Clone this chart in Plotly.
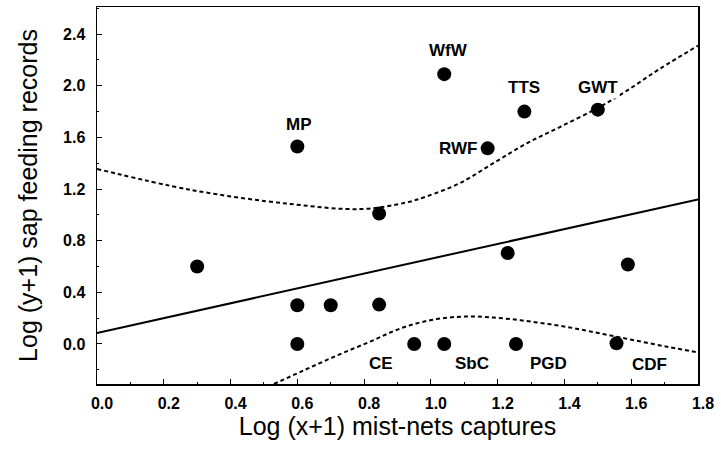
import plotly.graph_objects as go

# ---- data ----
x_vals = [0.60, 1.04, 1.28, 1.50, 1.17, 0.845, 0.30, 0.60, 0.70, 0.60, 0.845, 1.23, 1.59, 0.95, 1.04, 1.255, 1.556]
y_vals = [1.53, 2.09, 1.80, 1.815, 1.515, 1.01, 0.60, 0.30, 0.30, 0.0, 0.305, 0.705, 0.615, 0.0, 0.0, 0.0, 0.005]
labels = ["MP", "WfW", "TTS", "GWT", "RWF", "", "", "", "", "", "", "", "", "CE", "SbC", "PGD", "CDF"]

fit_x = [0.0, 1.8]
fit_y = [0.085, 1.12]

upper_x = [0.0, 0.28, 0.58, 0.79, 0.927, 0.987, 1.087, 1.187, 1.287, 1.386, 1.501, 1.586, 1.686, 1.80]
upper_y = [1.356, 1.194, 1.084, 1.045, 1.096, 1.143, 1.246, 1.40, 1.554, 1.68, 1.83, 1.96, 2.132, 2.31]

lower_x = [0.53, 0.618, 0.718, 0.818, 0.917, 1.017, 1.117, 1.217, 1.317, 1.416, 1.516, 1.616, 1.715, 1.80]
lower_y = [-0.31, -0.206, -0.09, 0.018, 0.128, 0.193, 0.213, 0.198, 0.167, 0.128, 0.077, 0.025, -0.025, -0.065]

x_ticks = [0.0, 0.2, 0.4, 0.6, 0.8, 1.0, 1.2, 1.4, 1.6, 1.8]
y_ticks = [0.0, 0.4, 0.8, 1.2, 1.6, 2.0, 2.4]

FONT = "Liberation Sans, Arial, sans-serif"

# label placement (pixel offsets from the point)
label_pos = {
    "MP": dict(xshift=2, yshift=22, xanchor="center"),
    "WfW": dict(xshift=4, yshift=24, xanchor="center"),
    "TTS": dict(xshift=0, yshift=24, xanchor="center"),
    "GWT": dict(xshift=0, yshift=22, xanchor="center"),
    "RWF": dict(xshift=-9, yshift=0, xanchor="right"),
    "CE": dict(xshift=-33, yshift=-20, xanchor="center"),
    "SbC": dict(xshift=28, yshift=-20, xanchor="center"),
    "PGD": dict(xshift=32, yshift=-20, xanchor="center"),
    "CDF": dict(xshift=33, yshift=-21, xanchor="center"),
}

fig = go.Figure()

fig.add_trace(go.Scatter(x=upper_x, y=upper_y, mode="lines",
                         line=dict(color="black", width=2, dash="4px,3px", shape="spline"),
                         showlegend=False, hoverinfo="skip"))
fig.add_trace(go.Scatter(x=lower_x, y=lower_y, mode="lines",
                         line=dict(color="black", width=2, dash="4px,3px", shape="spline"),
                         showlegend=False, hoverinfo="skip"))
fig.add_trace(go.Scatter(x=fit_x, y=fit_y, mode="lines",
                         line=dict(color="black", width=2),
                         showlegend=False, hoverinfo="skip"))
fig.add_trace(go.Scatter(x=x_vals, y=y_vals, mode="markers",
                         marker=dict(color="black", size=14),
                         showlegend=False))

for xv, yv, lab in zip(x_vals, y_vals, labels):
    if not lab:
        continue
    p = label_pos[lab]
    fig.add_annotation(x=xv, y=yv, text=lab, showarrow=False,
                       xanchor=p["xanchor"], yanchor="middle",
                       xshift=p["xshift"], yshift=p["yshift"],
                       bgcolor="white", borderpad=1,
                       font=dict(family=FONT, size=17, color="black", weight="bold"))

axis_common = dict(
    showline=True, linecolor="black", linewidth=1.5, mirror=True,
    ticks="inside", ticklen=5, tickwidth=1, tickcolor="black",
    showgrid=False, zeroline=False,
    tickfont=dict(family=FONT, size=16, color="black", weight="bold"),
)

fig.update_xaxes(range=[0, 1.8], tickvals=x_ticks,
                 ticktext=[f"{v:.1f}" for v in x_ticks],
                 minor=dict(ticks="inside", ticklen=2, dtick=0.1, tickcolor="black"),
                 title=dict(text="Log (x+1) mist-nets captures",
                            font=dict(family=FONT, size=25, color="black"), standoff=4),
                 ticklabelstandoff=4, ticklabelshift=5, ticklabeloverflow="allow",
                 **axis_common)
fig.update_yaxes(range=[-0.31, 2.61], tickvals=y_ticks,
                 ticktext=[f"{v:.1f}" for v in y_ticks],
                 minor=dict(ticks="inside", ticklen=2, dtick=0.2, tickcolor="black"),
                 title=dict(text="Log (y+1) sap feeding records",
                            font=dict(family=FONT, size=25, color="black"), standoff=18),
                 ticklabelstandoff=7,
                 **axis_common)

fig.update_layout(
    width=721, height=453,
    margin=dict(l=97, r=23, t=7, b=69, autoexpand=False),
    plot_bgcolor="white", paper_bgcolor="white",
    hovermode=False,
)

fig.write_html("out.html",
               config={"displayModeBar": False, "staticPlot": True},
               post_script="document.body.style.margin='0px';document.body.style.overflow='hidden';")
